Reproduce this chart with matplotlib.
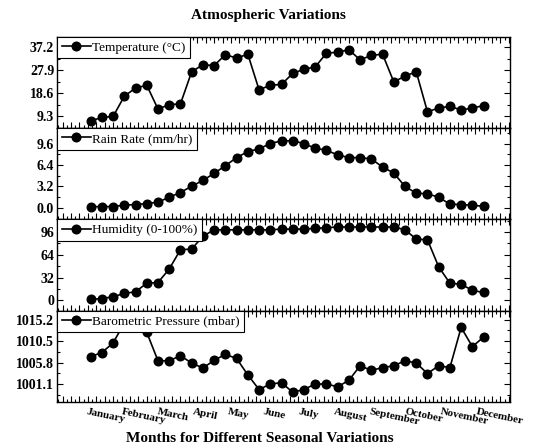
import numpy as np
import matplotlib
matplotlib.use("Agg")
import matplotlib.pyplot as plt
from matplotlib.ticker import MultipleLocator, FixedLocator

plt.rcParams['font.family'] = ['Liberation Serif', 'DejaVu Serif']

# ------------------------------------------------------------------
# data, 3 readings per month
months = ["January", "February", "March", "April", "May", "June",
          "July", "August", "September", "October", "November", "December"]

temperature = [7.5, 8.9, 9.3, 17.5, 20.8, 21.9, 12.3, 14.1, 14.4, 27.4, 30.2, 29.9,
               34.3, 32.9, 34.5, 20.1, 21.9, 22.3, 26.7, 28.4, 29.3, 34.9, 35.3, 36.3,
               32.2, 34.0, 34.5, 23.3, 25.6, 27.4, 11.2, 12.7, 13.4, 11.9, 12.7, 13.7]

rain_rate = [0.18, 0.2, 0.2, 0.42, 0.5, 0.66, 0.85, 1.6, 2.3, 3.24, 4.1, 5.15,
             6.3, 7.5, 8.4, 8.8, 9.6, 10.0, 10.0, 9.6, 8.9, 8.6, 7.9, 7.5,
             7.5, 7.3, 6.1, 5.2, 3.2, 2.2, 2.1, 1.6, 0.56, 0.5, 0.4, 0.24]

humidity = [1.4, 2.4, 5.0, 9.7, 12.0, 24.0, 25.0, 44.0, 71.0, 72.0, 90.0, 99.0,
            99.0, 99.0, 99.0, 99.0, 99.0, 100.0, 100.0, 100.0, 101.0, 102.0, 103.0, 103.0,
            103.0, 103.0, 103.0, 103.0, 99.0, 86.0, 85.0, 47.0, 24.0, 22.6, 14.0, 11.0]

pressure = [1007.1, 1008.0, 1010.1, 1014.5, 1015.0, 1012.4, 1006.2, 1006.2, 1007.3, 1005.7, 1004.6, 1006.3,
            1007.6, 1006.7, 1003.1, 999.9, 1001.1, 1001.4, 999.3, 999.9, 1001.1, 1001.1, 1000.5, 1001.9,
            1005.1, 1004.1, 1004.7, 1005.1, 1006.2, 1005.7, 1003.4, 1005.1, 1004.7, 1013.5, 1009.3, 1011.4]

x = np.arange(1, len(temperature) + 1)

panels = [
    (temperature, "Temperature (°C)", [9.3, 18.6, 27.9, 37.2], ["9.3", "18.6", "27.9", "37.2"], (4.6, 41.5)),
    (rain_rate, "Rain Rate (mm/hr)", [0.0, 3.2, 6.4, 9.6], ["0.0", "3.2", "6.4", "9.6"], (-1.7, 11.9)),
    (humidity, "Humidity (0-100%)", [0, 32, 64, 96], ["0", "32", "64", "96"], (-14.4, 113.7)),
    (pressure, "Barometric Pressure (mbar)", [1001.1, 1005.8, 1010.5, 1015.2],
     ["1001.1", "1005.8", "1010.5", "1015.2"], (997.2, 1017.2)),
]

# ------------------------------------------------------------------
fig = plt.figure(figsize=(5.53, 4.44), dpi=100)
gs = fig.add_gridspec(4, 1, left=0.103, right=0.922, top=0.917, bottom=0.095, hspace=0)

axes = []
for k, (vals, name, yt, ytl, ylim) in enumerate(panels):
    ax = fig.add_subplot(gs[k], sharex=axes[0] if axes else None)
    ax.plot(x, vals, color='black', lw=1.2, marker='o', ms=6.2, label=name)
    ax.set_ylim(*ylim)
    ax.yaxis.set_major_locator(FixedLocator(yt))
    ax.set_yticklabels(ytl, fontweight='bold', fontsize=10)
    step = yt[1] - yt[0]
    ax.yaxis.set_minor_locator(FixedLocator([t - step / 2 for t in yt] + [yt[-1] + step / 2]))
    ax.xaxis.set_major_locator(MultipleLocator(0.75))
    ax.xaxis.set_minor_locator(MultipleLocator(0.375))
    ax.tick_params(which='both', direction='in', top=True, right=True, labelbottom=False)
    ax.tick_params(which='major', length=4, width=0.8, pad=2)
    ax.tick_params(which='minor', length=2, width=0.8)
    for s in ax.spines.values():
        s.set_linewidth(1.0)
    leg = ax.legend(loc='upper left', borderaxespad=0, fancybox=False, framealpha=1,
                    edgecolor='black', fontsize=9.5, handlelength=2.2, handletextpad=0.1,
                    borderpad=0.35)
    leg.get_frame().set_linewidth(0.8)
    leg.set_zorder(10)
    axes.append(ax)

axes[0].set_xlim(-2.0, 38.34)

# month labels under the bottom panel
month_pos = np.linspace(0.7, 35.4, 12)
bottom = axes[-1]
for pos, m in zip(month_pos, months):
    bottom.annotate(m, xy=(pos, 0), xycoords=('data', 'axes fraction'),
                    xytext=(0, -4), textcoords='offset points',
                    ha='left', va='top', rotation=-12, rotation_mode='anchor',
                    fontsize=8, fontweight='bold')

fig.text(0.485, 0.966, "Atmospheric Variations", ha='center', va='center',
         fontsize=11, fontweight='bold')
fig.text(0.47, 0.013, "Months for Different Seasonal Variations", ha='center', va='center',
         fontsize=11, fontweight='bold')

plt.savefig("out.png", dpi=100)
